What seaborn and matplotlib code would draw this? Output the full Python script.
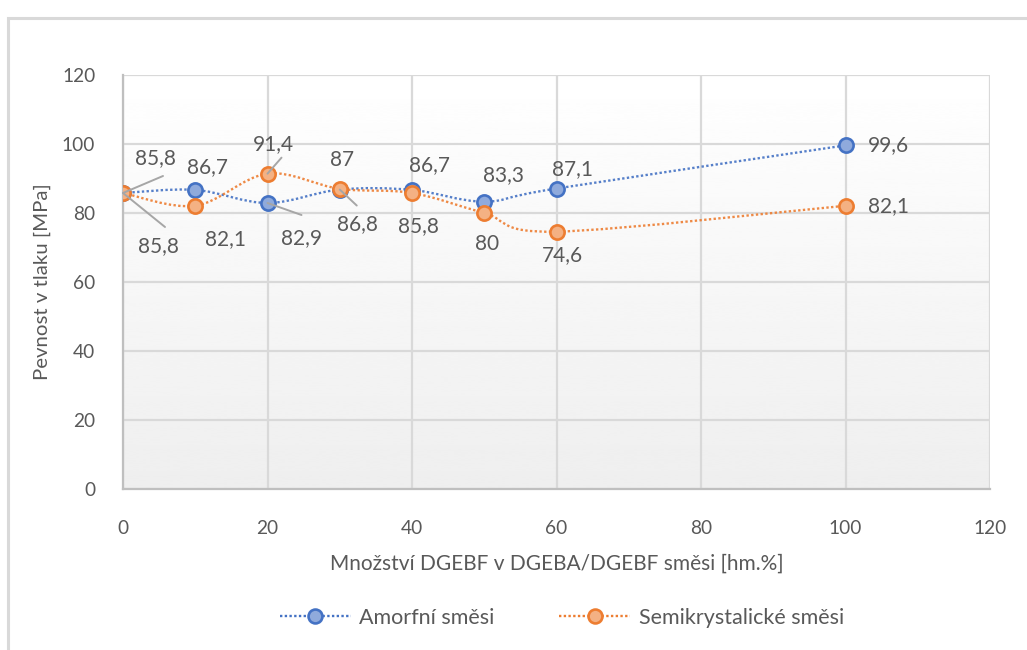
import numpy as np
import pandas as pd
import matplotlib
matplotlib.use("Agg")
import matplotlib.pyplot as plt
from matplotlib.path import Path
from matplotlib.patches import PathPatch, Rectangle
from matplotlib.lines import Line2D
import seaborn as sns

# --- data -------------------------------------------------------------
dgebf_share = [0, 10, 20, 30, 40, 50, 60, 100]
amorfni = [85.8, 86.7, 82.9, 86.8, 86.7, 83.3, 87.1, 99.6]
semikrystalicke = [85.8, 82.1, 91.4, 87.0, 85.8, 80.0, 74.6, 82.1]
series_names = ["Amorfní směsi", "Semikrystalické směsi"]
x_ticks = [0, 20, 40, 60, 80, 100, 120]
y_ticks = [0, 20, 40, 60, 80, 100, 120]
x_title = "Množství DGEBF v DGEBA/DGEBF směsi [hm.%]"
y_title = "Pevnost v tlaku [MPa]"

df = pd.DataFrame({
    "x": dgebf_share * 2,
    "y": amorfni + semikrystalicke,
    "serie": [series_names[0]] * len(amorfni) + [series_names[1]] * len(semikrystalicke),
})

# --- styling ----------------------------------------------------------
sns.set_theme(style="white")
plt.rcParams["font.family"] = ["Lato", "DejaVu Sans"]
TEXT = "#595959"
GRID = "#d9d9d9"
LEADER = "#a6a6a6"
line_col = {series_names[0]: "#4472C4", series_names[1]: "#ED7D31"}
face_col = {series_names[0]: "#8FAADC", series_names[1]: "#F4B183"}

fig = plt.figure(figsize=(10.27, 6.5), dpi=100)
fig.patch.set_facecolor("white")
W, H = 1027, 650
ax = fig.add_axes([123 / W, 1 - 489 / H, (990 - 123) / W, (489 - 75) / H])

# chart frame
fig.patches.append(Rectangle((8 / W, -0.1), 1.2, 1 - 18 / H + 0.1,
                             transform=fig.transFigure, fill=False,
                             edgecolor="#d9d9d9", linewidth=2.2, zorder=0))

ax.set_xlim(0, 120)
ax.set_ylim(0, 120)

# soft vertical gradient inside plot area
grad = np.linspace(0.935, 1.0, 256).reshape(-1, 1)
ax.imshow(grad, extent=[0, 120, 0, 120], origin="lower", aspect="auto",
          cmap="gray", vmin=0, vmax=1, zorder=0, interpolation="bicubic")


def smooth_path(xs, ys):
    """Cubic Bezier path through the points (Catmull-Rom control points)."""
    pts = np.column_stack([xs, ys]).astype(float)
    n = len(pts)
    verts = [pts[0]]
    codes = [Path.MOVETO]
    for i in range(n - 1):
        p0 = pts[i - 1] if i > 0 else pts[i]
        p1 = pts[i]
        p2 = pts[i + 1]
        p3 = pts[i + 2] if i + 2 < n else pts[i + 1]
        c1 = p1 + (p2 - p0) / 6.0
        c2 = p2 - (p3 - p1) / 6.0
        verts += [c1, c2, p2]
        codes += [Path.CURVE4] * 3
    return Path(verts, codes)


for name, ys in zip(series_names, [amorfni, semikrystalicke]):
    ax.add_patch(PathPatch(smooth_path(dgebf_share, ys), fill=False,
                           edgecolor=line_col[name], linewidth=1.7, alpha=0.9,
                           linestyle=(0, (1, 1)), zorder=3, capstyle="butt"))

for name in series_names:
    sub = df[df["serie"] == name]
    sns.scatterplot(data=sub, x="x", y="y", ax=ax, s=105, color=face_col[name],
                    edgecolor=line_col[name], linewidth=1.9, zorder=4, legend=False)

ax.set_xticks(x_ticks)
ax.set_yticks(y_ticks)
ax.grid(True, color=GRID, linewidth=1.6)
ax.set_axisbelow(True)
for s in ["top", "right"]:
    ax.spines[s].set_visible(False)
for s in ["left", "bottom"]:
    ax.spines[s].set_color("#bfbfbf")
    ax.spines[s].set_linewidth(1.6)
ax.tick_params(axis="both", length=0, labelsize=13.8, colors=TEXT)
ax.tick_params(axis="y", pad=20)
ax.tick_params(axis="x", pad=22)
ax.set_xlabel(x_title, fontsize=15, color=TEXT, labelpad=12)
ax.set_ylabel(y_title, fontsize=14.7, color=TEXT, labelpad=8)


def fmt(v):
    s = f"{v:.1f}".replace(".", ",")
    return s[:-2] if s.endswith(",0") else s


# label offsets in pixels (right, down); optional leader-line end offset
offsets = {
    series_names[0]: [(32, -35, (40, -17)), (12, -23, None), (34, 35, (34, 12)),
                      (18, 35, (17, 16)), (17, -25, None), (19, -27, None),
                      (16, -19, None), (43, 0, None)],
    series_names[1]: [(35, 53, (42, 34)), (30, 33, None), (6, -30, (14, -16)),
                      (2, -29, None), (6, 33, None), (3, 31, None),
                      (6, 23, None), (43, 0, None)],
}
px2pt = 72 / 100
for name, ys in zip(series_names, [amorfni, semikrystalicke]):
    for xv, yv, (dx, dy, lead) in zip(dgebf_share, ys, offsets[name]):
        if lead is not None:
            ax.annotate("", (xv, yv), xytext=(lead[0] * px2pt, -lead[1] * px2pt),
                        textcoords="offset points", zorder=5,
                        arrowprops=dict(arrowstyle="-", color=LEADER, lw=1.4,
                                        shrinkA=0, shrinkB=0))
        ax.annotate(fmt(yv), (xv, yv), xytext=(dx * px2pt, -dy * px2pt),
                    textcoords="offset points", ha="center", va="center",
                    fontsize=15, color=TEXT, zorder=5)

handles = [Line2D([0], [0], color=line_col[n], linestyle=(0, (1, 1)), linewidth=1.7,
                  marker="o", markersize=10, markerfacecolor=face_col[n],
                  markeredgecolor=line_col[n], markeredgewidth=1.9)
           for n in series_names]
leg = fig.legend(handles, series_names, loc="center", ncol=2,
                 bbox_to_anchor=(562 / W, 1 - 618 / H), frameon=False,
                 fontsize=15.5, handlelength=3.3, handletextpad=0.4,
                 columnspacing=3.0)
for t in leg.get_texts():
    t.set_color(TEXT)

fig.savefig("out.png", dpi=100, facecolor="white")
